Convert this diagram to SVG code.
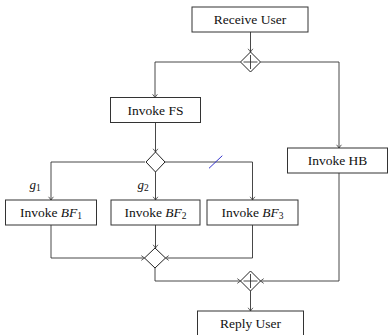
<svg xmlns="http://www.w3.org/2000/svg" width="388" height="335" viewBox="0 0 388 335">
<defs>
<marker id="ar" markerUnits="userSpaceOnUse" markerWidth="8" markerHeight="8" refX="0" refY="0" viewBox="-5 -4 6 8" orient="auto" overflow="visible">
<path d="M-3.2,-2.4 Q-0.8,-0.5 0,0 Q-0.8,0.5 -3.2,2.4" fill="none" stroke="#333" stroke-width="0.8"/>
</marker>
<style>
.box{fill:#fff;stroke:#333;stroke-width:1}
.gw{fill:#fff;stroke:#222;stroke-width:1}
.ln{fill:none;stroke:#333;stroke-width:0.9}
.ar{marker-end:url(#ar)}
</style>
</defs>
<rect width="388" height="335" fill="#fff"/>
<g id="connectors">
<path class="ln ar" d="M250.5,32 V52"/>
<path class="ln ar" d="M240.5,62 H155 V97.5"/>
<path class="ln ar" d="M260.5,62 H339 V148"/>
<path class="ln ar" d="M155.5,122.5 V152"/>
<path class="ln ar" d="M145,162 H51 V200"/>
<path class="ln ar" d="M155.5,172 V200"/>
<path class="ln ar" d="M165,162 H252.5 V200"/>
<path d="M209,168.3 L222.3,155.7" stroke="#3333cc" stroke-width="1" fill="none"/>
<path class="ln ar" d="M51,225 V258 H144.5"/>
<path class="ln ar" d="M155.5,225 V248"/>
<path class="ln ar" d="M252.5,225 V258 H165.5"/>
<path class="ln ar" d="M155,268 V281 H240.5"/>
<path class="ln ar" d="M339,173 V281 H260.5"/>
<path class="ln ar" d="M250.5,291 V311"/>
</g>
<g font-family="Liberation Serif" font-size="13.5" fill="#111" text-anchor="middle">
<g id="receive-user">
<rect class="box" x="192" y="7" width="116" height="25"/>
<text x="250" y="24">Receive User</text>
</g>
<g id="gateway-split">
<path class="gw" d="M250.5,52 L260.5,62 L250.5,72 L240.5,62 Z"/>
<path class="ln" d="M250.5,55 V69 M243.5,62 H257.5"/>
</g>
<g id="invoke-fs">
<rect class="box" x="110.5" y="97.5" width="90" height="25"/>
<text x="155.5" y="114.5">Invoke FS</text>
</g>
<g id="invoke-hb">
<rect class="box" x="287.5" y="148" width="100" height="25"/>
<text x="337.5" y="165">Invoke HB</text>
</g>
<g id="gateway-xor">
<path class="gw" d="M155.5,152 L165,162 L155.5,172 L146,162 Z"/>
</g>
<g id="label-g1"><text x="35" y="189" font-style="italic" font-size="13">g<tspan font-size="9.5" font-style="normal" dy="2">1</tspan></text></g>
<g id="label-g2"><text x="143" y="189" font-style="italic" font-size="13">g<tspan font-size="9.5" font-style="normal" dy="2">2</tspan></text></g>
<g id="invoke-bf1">
<rect class="box" x="5.5" y="200" width="91" height="25"/>
<text x="51" y="217">Invoke <tspan font-style="italic">BF</tspan><tspan font-size="9.5" dy="2">1</tspan></text>
</g>
<g id="invoke-bf2">
<rect class="box" x="111" y="200" width="89" height="25"/>
<text x="155.5" y="217">Invoke <tspan font-style="italic">BF</tspan><tspan font-size="9.5" dy="2">2</tspan></text>
</g>
<g id="invoke-bf3">
<rect class="box" x="207" y="200" width="91" height="25"/>
<text x="252.5" y="217">Invoke <tspan font-style="italic">BF</tspan><tspan font-size="9.5" dy="2">3</tspan></text>
</g>
<g id="gateway-xor-join">
<path class="gw" d="M155,248 L165.5,258 L155,268 L144.5,258 Z"/>
</g>
<g id="gateway-join">
<path class="gw" d="M250.5,271 L260.5,281 L250.5,291 L240.5,281 Z"/>
<path class="ln" d="M250.5,274 V288 M243.5,281 H257.5"/>
</g>
<g id="reply-user">
<rect class="box" x="197.5" y="311" width="106" height="25"/>
<text x="250.5" y="328">Reply User</text>
</g>
</g>
</svg>
